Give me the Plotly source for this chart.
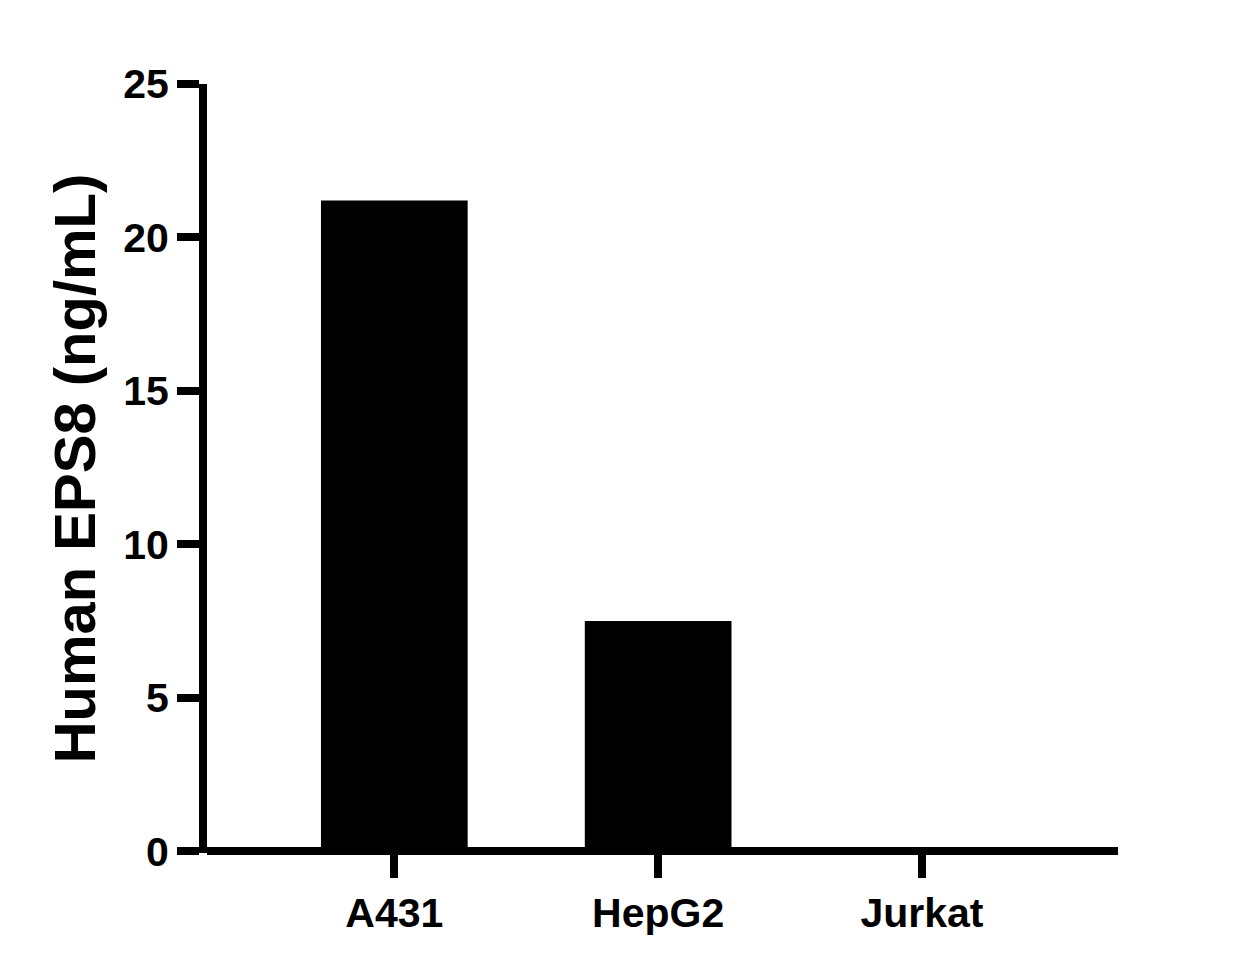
import plotly.graph_objects as go

# cell lines and measured EPS8 levels
cell_lines = ["A431", "HepG2", "Jurkat"]
eps8_ng_ml = [21.2, 7.5, 0.0]
y_ticks = [0, 5, 10, 15, 20, 25]

font_family = "Liberation Sans, Arial, sans-serif"

fig = go.Figure()

fig.add_trace(go.Bar(
    x=cell_lines,
    y=eps8_ng_ml,
    width=0.556,
    marker=dict(color="black", line=dict(width=0)),
))

# page body has an 8px margin, so the figure is a bit smaller than the window
fig.update_layout(
    width=1244,
    height=964,
    plot_bgcolor="white",
    paper_bgcolor="white",
    showlegend=False,
    margin=dict(l=199, r=134, t=76, b=119),
    font=dict(family=font_family, color="black"),
)

# x axis line is drawn as the y zeroline so the 0 tick joins it
fig.update_xaxes(
    range=[-0.71, 2.743],
    showline=False,
    ticks="outside", ticklen=24, tickwidth=8, tickcolor="black",
    tickfont=dict(size=41, weight="bold", family=font_family),
    showgrid=False, zeroline=False,
)

fig.update_yaxes(
    range=[-0.06, 25],
    tickvals=y_ticks,
    showline=True, linewidth=8, linecolor="black",
    zeroline=True, zerolinewidth=8, zerolinecolor="black",
    ticks="outside", ticklen=22, tickwidth=8, tickcolor="black",
    tickfont=dict(size=41, weight="bold", family=font_family),
    title=dict(text="Human EPS8 (ng/mL)", standoff=12,
               font=dict(size=58, weight="bold", family=font_family)),
    showgrid=False,
)

fig.write_html("out.html")
